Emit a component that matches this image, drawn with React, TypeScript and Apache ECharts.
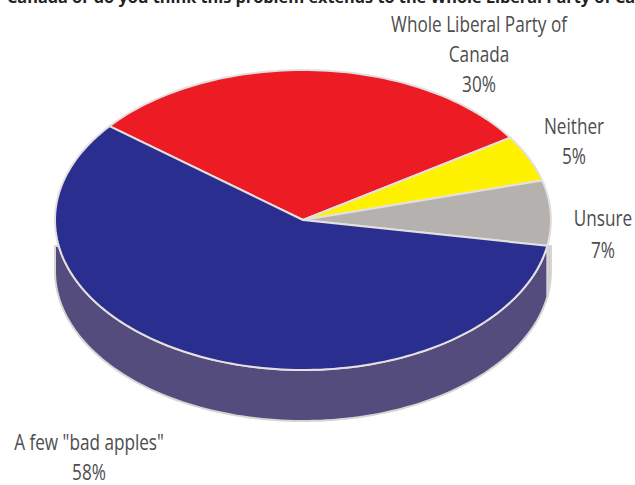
import React, { useEffect, useRef } from "react";
import * as echarts from "echarts";

// Survey answers, in clockwise order round the pie
const categories = ["Whole Liberal Party of Canada", "Neither", "Unsure", 'A few "bad apples"'];
const labelLines = [["Whole Liberal Party of", "Canada"], ["Neither"], ["Unsure"], ['A few "bad apples"']];
const shares = [30, 5, 7, 58];
const faceColors = ["#ed1c24", "#fff200", "#b5b1af", "#2a2e8f"];
const wallColors = ["#a0161c", "#c9bf00", "#cfcbca", "#544c7c"];
const question = "Canada or do you think this problem extends to the Whole Liberal Party of Ca";

// Tilted disc geometry
const CX = 303;
const CY = 220;
const RX = 248;
const RY = 150;
const DEPTH = 51;
const WALL_TOP = 246;
const START_DEG = 218.7;
const EDGE = "#e4e0e0";
const LABEL_COLOR = "#4d4d4d";
const LABEL_FONT = "'Open Sans', sans-serif";

const total = shares.reduce((a, b) => a + b, 0);
const rows = shares.map((v, i) => [v, shares.slice(0, i).reduce((a, b) => a + b, 0), i]);

const ellipsePoint = (deg: number, dy = 0): number[] => {
  const t = (deg * Math.PI) / 180;
  return [CX + RX * Math.cos(t), CY + dy + RY * Math.sin(t)];
};

const arcPoints = (from: number, to: number, dy = 0): number[][] => {
  const steps = Math.max(2, Math.ceil(Math.abs(to - from) / 1.5));
  const pts: number[][] = [];
  for (let i = 0; i <= steps; i++) pts.push(ellipsePoint(from + ((to - from) * i) / steps, dy));
  return pts;
};

const sliceRange = (api: any): [number, number] => {
  const from = START_DEG + (api.value(1) / total) * 360;
  return [from, from + (api.value(0) / total) * 360];
};

// Upper face of one slice
const renderFace = (_: any, api: any) => {
  const [from, to] = sliceRange(api);
  return {
    type: "polygon",
    shape: { points: [[CX, CY], ...arcPoints(from, to)] },
    style: { fill: faceColors[api.value(2)], stroke: EDGE, lineWidth: 2, lineJoin: "round" },
  };
};

// Visible outer wall: the part of a slice that faces the viewer (0..180 degrees).
// Its upper rim stays below WALL_TOP, so the wall only shows under the shoulders of the disc.
const renderWall = (_: any, api: any) => {
  const [from, to] = sliceRange(api);
  const parts: any[] = [];
  [0, 360].forEach((turn) => {
    const a = Math.max(from, turn);
    const b = Math.min(to, turn + 180);
    if (b > a) {
      const rim = arcPoints(a, b).map(([x, y]) => [x, Math.max(y, WALL_TOP)]);
      parts.push({
        type: "polygon",
        shape: { points: [...rim, ...arcPoints(b, a, DEPTH)] },
        style: { fill: wallColors[api.value(2)], stroke: "#d8d4d4", lineWidth: 2, lineJoin: "round" },
      });
    }
  });
  return { type: "group", children: parts };
};

const labelAnchors = [
  { x: 479, y: 24, step: 30 },
  { x: 574, y: 126, step: 30 },
  { x: 603, y: 218, step: 32 },
  { x: 89, y: 442, step: 30 },
];

const labelText = (text: string, x: number, y: number) => ({
  type: "text",
  x,
  y,
  scaleX: 0.78,
  silent: true,
  style: {
    text,
    fill: LABEL_COLOR,
    font: `400 22px ${LABEL_FONT}`,
    align: "center",
    verticalAlign: "middle",
  },
});

const labels = categories.flatMap((_, i) => {
  const { x, y, step } = labelAnchors[i];
  const lines = [...labelLines[i], `${shares[i]}%`];
  return lines.map((line, k) => labelText(line, x, y + k * step));
});

export default function App() {
  const ref = useRef<HTMLDivElement>(null);

  useEffect(() => {
    document.body.style.margin = "0";
    const chart = echarts.init(ref.current!, undefined, { renderer: "svg" });
    chart.setOption({
      animation: false,
      backgroundColor: "#ffffff",
      series: [
        { type: "custom", coordinateSystem: "none", silent: true, data: rows, renderItem: renderWall, z: 1 },
        { type: "custom", coordinateSystem: "none", silent: true, data: rows, renderItem: renderFace, z: 2 },
      ],
      graphic: [
        {
          type: "text",
          x: 7,
          y: -11,
          silent: true,
          style: {
            text: question,
            fill: "#222222",
            font: "700 16.3px 'Open Sans', sans-serif",
            align: "left",
            verticalAlign: "top",
          },
        },
        ...labels,
      ],
    });
    return () => chart.dispose();
  }, []);

  return <div ref={ref} style={{ position: "absolute", left: 0, top: 0, width: 635, height: 485 }} />;
}
